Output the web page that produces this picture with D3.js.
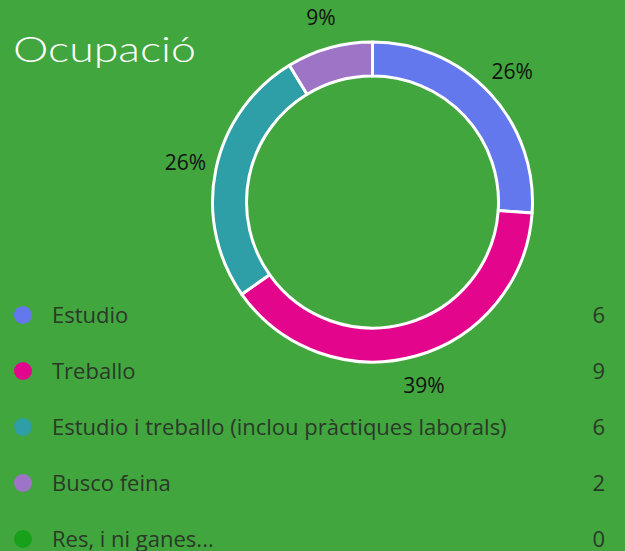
<!DOCTYPE html>
<html>
<head>
<meta charset="utf-8">
<script src="https://cdn.jsdelivr.net/npm/d3@7"></script>
<style>
  body { margin: 0; background: #41a63d; }
  svg { display: block; }
</style>
</head>
<body>
<svg id="chart" width="625" height="551"></svg>
<script>
const categories = [
  "Estudio",
  "Treballo",
  "Estudio i treballo (inclou pràctiques laborals)",
  "Busco feina",
  "Res, i ni ganes...",
];
const counts = [6, 9, 6, 2, 0];
const colors = ["#6478ee", "#e3068c", "#2e9fa6", "#9d74c6", "#17a01a"];

const rows = categories.map((c, i) => ({ name: c, value: counts[i], color: colors[i] }));
const total = d3.sum(counts);

const svg = d3.select("#chart");

// title
svg.append("text")
  .attr("x", 13)
  .attr("y", 62)
  .attr("fill", "#fff")
  .style("font-family", "Lato, sans-serif")
  .style("font-weight", 300)
  .style("font-size", "36px")
  .attr("textLength", 183)
  .attr("lengthAdjust", "spacingAndGlyphs")
  .text("Ocupació");

// donut
const cx = 372.5, cy = 202;
const g = svg.append("g").attr("transform", `translate(${cx},${cy})`);

const pie = d3.pie().sort(null).value((d) => d.value);
const arc = d3.arc().innerRadius(126).outerRadius(160);
const labelArc = d3.arc().innerRadius(191).outerRadius(191);

const slices = pie(rows).filter((d) => d.data.value > 0);

g.selectAll(".slice")
  .data(slices)
  .enter()
  .append("path")
  .classed("slice", true)
  .attr("d", arc)
  .attr("fill", (d) => d.data.color)
  .attr("stroke", "#fff")
  .attr("stroke-width", 3)
  .attr("stroke-linejoin", "round");

g.selectAll(".pct")
  .data(slices)
  .enter()
  .append("text")
  .classed("pct", true)
  .attr("transform", (d) => `translate(${labelArc.centroid(d)})`)
  .attr("text-anchor", "middle")
  .attr("dy", "0.35em")
  .attr("fill", "#111")
  .style("font-family", "'Open Sans', sans-serif")
  .style("font-weight", 500)
  .style("font-size", "21px")
  .text((d) => Math.round((d.data.value / total) * 100) + "%");

// legend
const yScale = d3.scalePoint()
  .domain(categories)
  .range([315, 539]);

const legend = svg.selectAll(".item")
  .data(rows)
  .enter()
  .append("g")
  .classed("item", true)
  .attr("transform", (d) => `translate(0,${yScale(d.name)})`);

legend.append("circle")
  .attr("cx", 23)
  .attr("cy", 0)
  .attr("r", 9)
  .attr("fill", (d) => d.color);

legend.append("text")
  .attr("x", 52)
  .attr("dy", "0.35em")
  .attr("fill", "#2c3829")
  .style("font-family", "'Open Sans', sans-serif")
  .style("font-size", "22px")
  .text((d) => d.name);

legend.append("text")
  .attr("x", 605)
  .attr("dy", "0.35em")
  .attr("text-anchor", "end")
  .attr("fill", "#2c3829")
  .style("font-family", "'Open Sans', sans-serif")
  .style("font-size", "22px")
  .text((d) => d.value);
</script>
</body>
</html>
